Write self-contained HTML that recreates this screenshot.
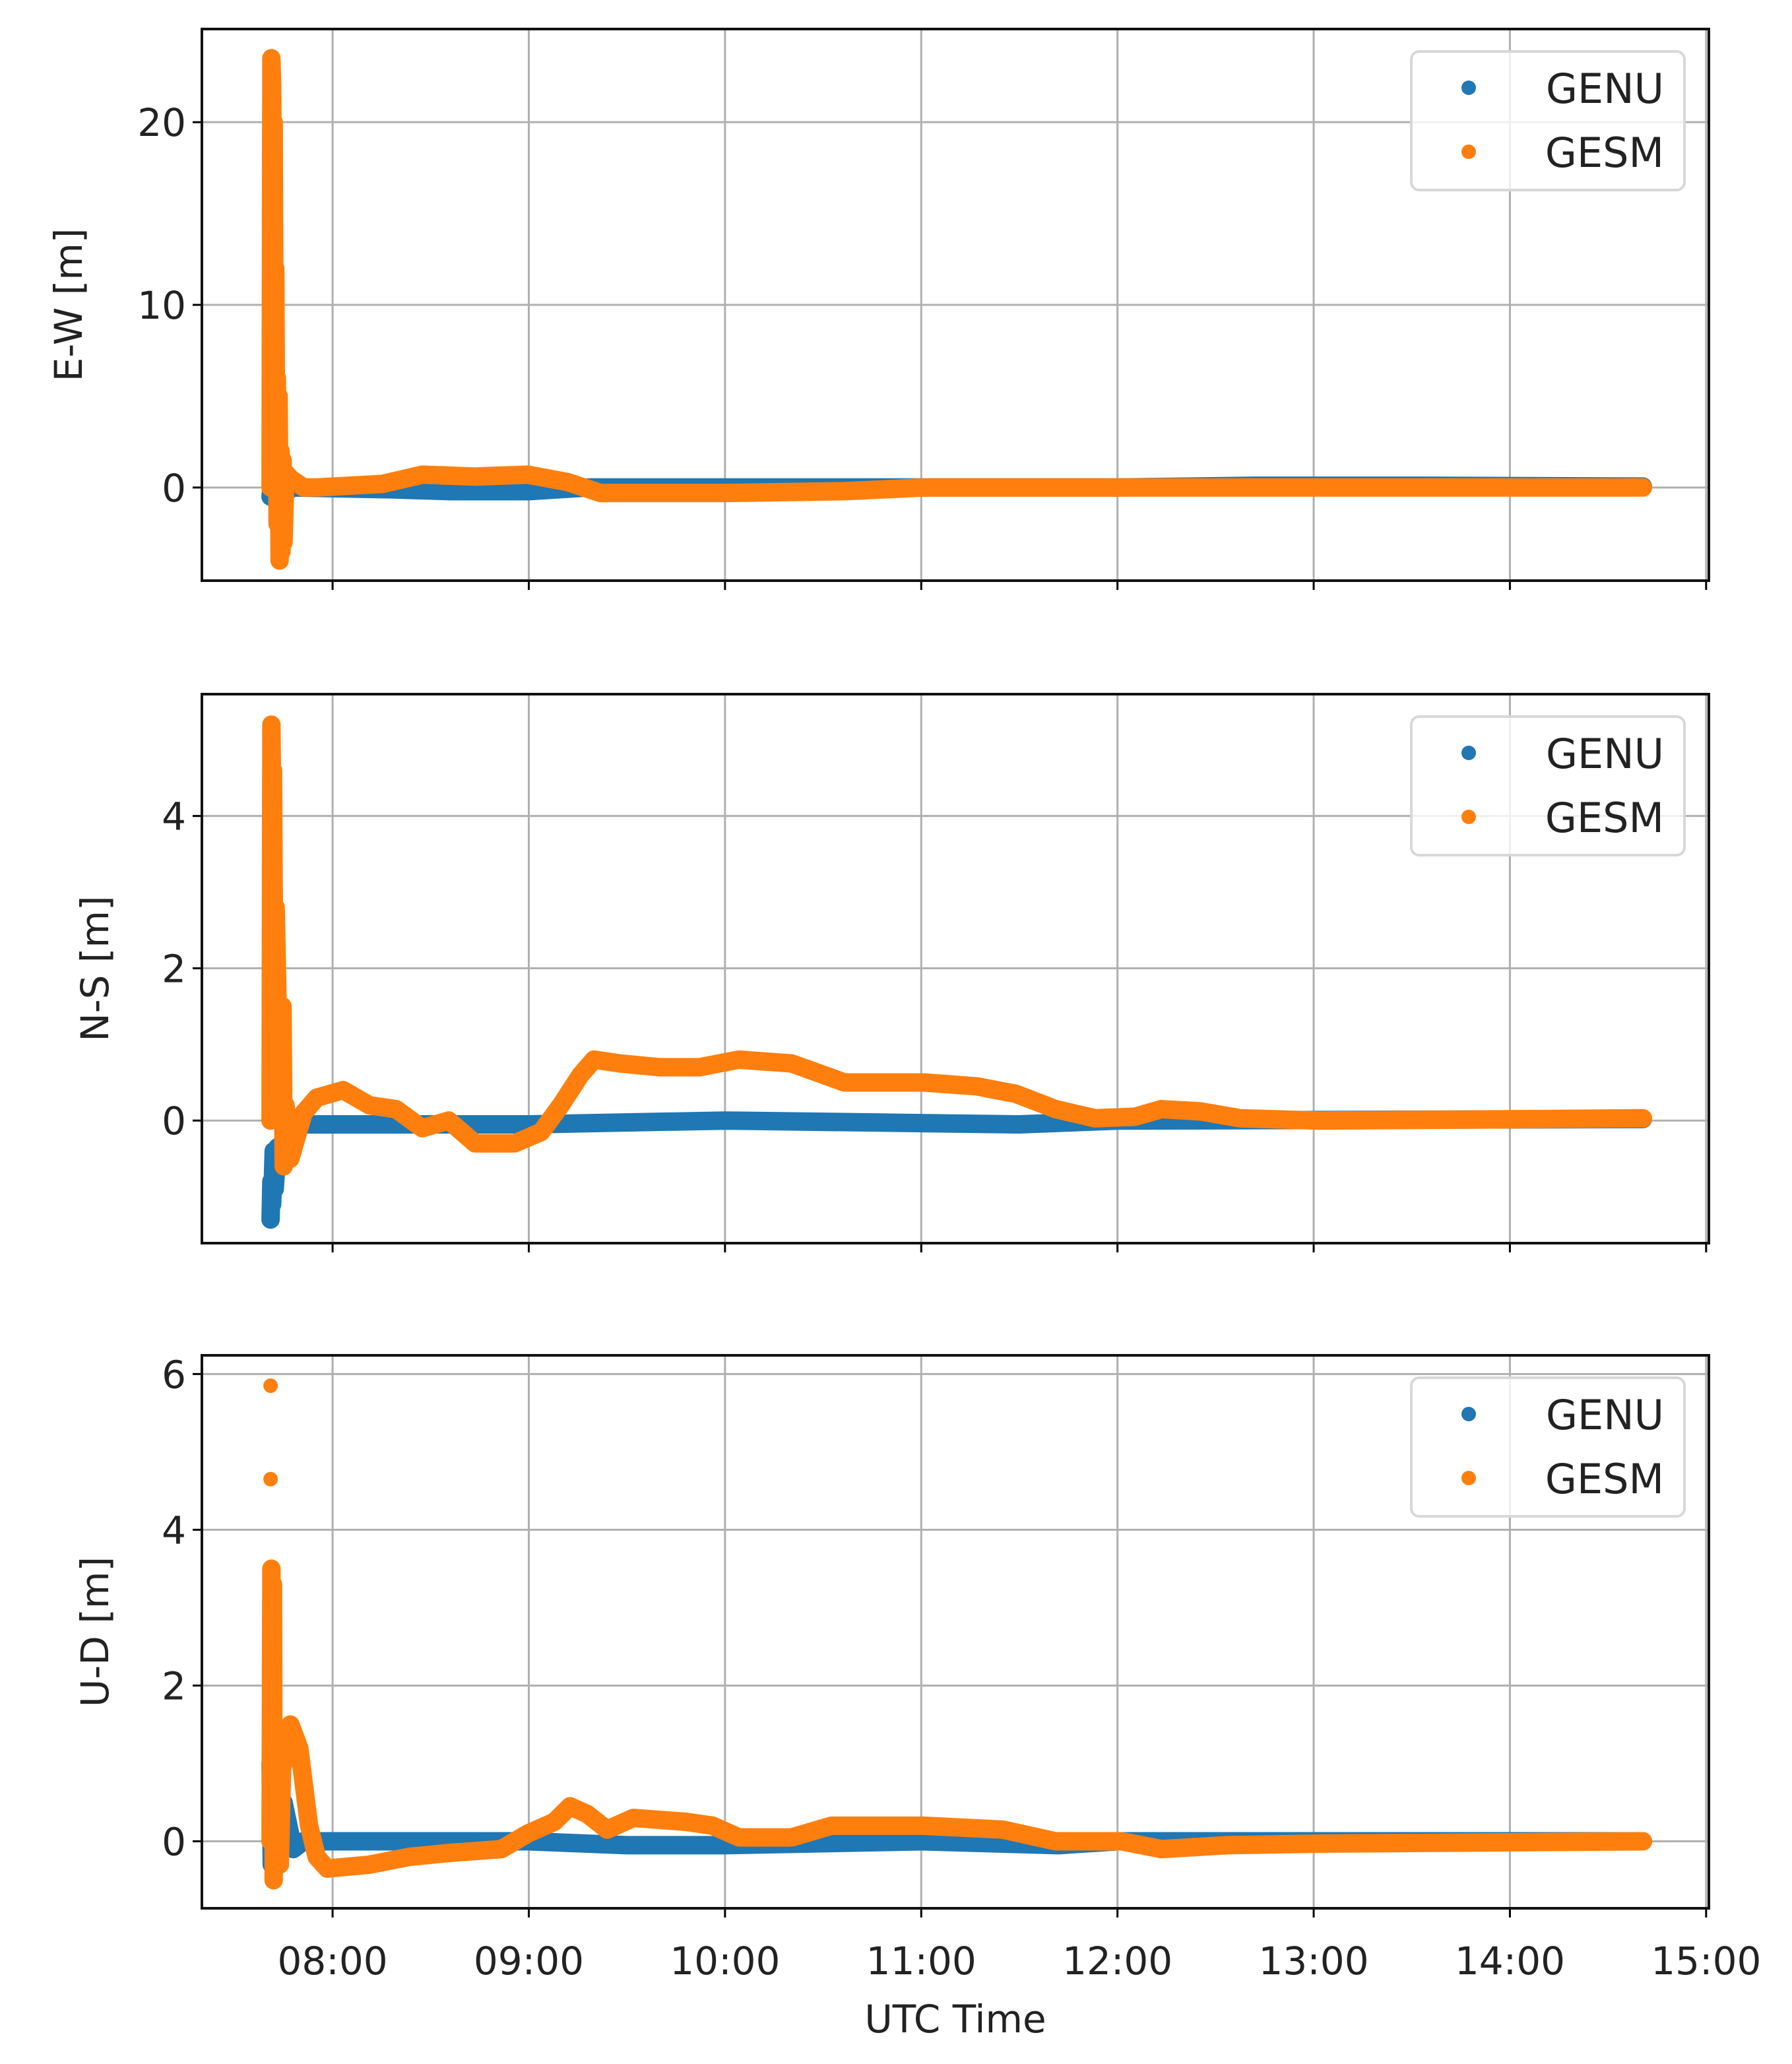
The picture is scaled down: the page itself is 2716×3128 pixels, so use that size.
<!DOCTYPE html>
<html><head><meta charset="utf-8"><style>
html,body{margin:0;padding:0;background:#fff;}
svg{display:block;font-family:"DejaVu Sans","Liberation Sans",sans-serif;}
</style></head><body>
<svg id="chart" width="2716" height="3128" viewBox="0 0 2716 3128" xmlns="http://www.w3.org/2000/svg"></svg>
<script>
// ---- data (hours UTC, metres) ----
const xTickHours = [8,9,10,11,12,13,14,15];
const xTickLabels = ["08:00","09:00","10:00","11:00","12:00","13:00","14:00","15:00"];
const seriesNames = ["GENU","GESM"];
const ewTicks = [0,10,20];
const nsTicks = [0,2,4];
const udTicks = [0,2,4,6];
const ewGenuT = [7.684,7.69,7.70,7.72,7.75,7.80,8.3,8.6,9.0,9.3,10.0,12.0,12.7,13.5,14.678];
const ewGenuV = [-0.5,0.3,-0.6,0.2,-0.3,0,-0.1,-0.2,-0.2,0,0,0,0.1,0.1,0.05];
const ewGesmT = [7.684,7.688,7.692,7.696,7.70,7.704,7.708,7.712,7.716,7.72,7.725,7.73,7.735,7.74,7.745,7.75,7.76,7.785,7.852,7.919,8.256,8.457,8.726,8.995,9.197,9.365,10.004,10.609,11.013,12.0,13.03,14.678];
const ewGesmV = [0,23.5,22,15,20,8,12,3,6,-2,5,-4,2,-3.5,1.5,-3,0.8,0.5,0,0,0.2,0.7,0.6,0.7,0.3,-0.3,-0.3,-0.2,0,0,0,0];
const nsGenuT = [7.684,7.688,7.692,7.70,7.705,7.72,7.751,7.785,7.852,7.919,8.2,9.0,10.0,11.5,12.0,14.678];
const nsGenuV = [-1.3,-0.8,-1.1,-0.4,-0.9,-0.35,-0.3,-0.2,-0.05,-0.05,-0.05,-0.05,0,-0.05,0,0.02];
const nsGesmT = [7.684,7.688,7.692,7.696,7.70,7.705,7.71,7.72,7.731,7.745,7.751,7.76,7.785,7.852,7.919,8.054,8.188,8.323,8.457,8.592,8.726,8.928,9.063,9.163,9.264,9.332,9.466,9.668,9.87,10.071,10.34,10.609,11.013,11.282,11.483,11.685,11.887,12.089,12.223,12.425,12.627,13.03,14.678];
const nsGesmV = [0,5.2,4.2,4.6,3.0,2.2,2.8,1.5,0.8,1.5,-0.6,0.2,-0.5,0.1,0.3,0.4,0.2,0.15,-0.1,0.0,-0.3,-0.3,-0.15,0.2,0.6,0.8,0.75,0.7,0.7,0.8,0.75,0.5,0.5,0.45,0.35,0.15,0.03,0.05,0.15,0.12,0.03,0.0,0.03];
const udGenuT = [7.684,7.69,7.70,7.72,7.75,7.80,7.85,8.3,9.0,9.5,10.0,11.0,11.7,12.0,14.678];
const udGenuV = [1.0,-0.3,0.8,-0.2,0.5,-0.1,0,0,0,-0.05,-0.05,0,-0.05,0,0];
const udGesmT = [7.684,7.688,7.692,7.696,7.70,7.705,7.71,7.72,7.731,7.745,7.751,7.785,7.83,7.88,7.919,7.973,8.188,8.39,8.592,8.861,8.995,9.13,9.21,9.298,9.399,9.533,9.802,9.937,10.071,10.34,10.542,11.013,11.416,11.685,12.021,12.223,12.56,13.03,14.678];
const udGesmV = [0,3.5,2.0,3.3,-0.5,1.5,0.2,1.0,-0.3,1.2,1.0,1.5,1.2,0.2,-0.2,-0.35,-0.3,-0.2,-0.15,-0.1,0.1,0.25,0.45,0.35,0.15,0.3,0.25,0.2,0.05,0.05,0.2,0.2,0.15,0.0,0.0,-0.1,-0.05,-0.03,0];
const udOutlierT = [7.684,7.684];
const udOutlierV = [5.85,4.65];

const NS="http://www.w3.org/2000/svg";
const svg=document.getElementById('chart');
const X0=306,X1=2590,H0=7.334,H1=15.014;
function xs(h){return X0+(h-H0)/(H1-H0)*(X1-X0);}
const BLUE="#1f77b4",ORANGE="#ff7f0e";
function mk(tag,attrs,parent){const e=document.createElementNS(NS,tag);for(const k in attrs)e.setAttribute(k,attrs[k]);(parent||svg).appendChild(e);return e;}

const panels=[
 {name:'ew',top:44,bot:880,lo:-5.1,hi:25.1,ticks:ewTicks,label:'E-W [m]',labelX:124,data:[[ewGenuT,ewGenuV],[ewGesmT,ewGesmV]]},
 {name:'ns',top:1052,bot:1884,lo:-1.61,hi:5.6,ticks:nsTicks,label:'N-S [m]',labelX:164,data:[[nsGenuT,nsGenuV],[nsGesmT,nsGesmV]]},
 {name:'ud',top:2054,bot:2892,lo:-0.86,hi:6.24,ticks:udTicks,label:'U-D [m]',labelX:164,data:[[udGenuT,udGenuV],[udGesmT,udGesmV]],out:[udOutlierT,udOutlierV]}
];
panels.forEach((p,pi)=>{
 const ys=v=>p.bot-(v-p.lo)/(p.hi-p.lo)*(p.bot-p.top);
 const g=mk('g',{});
 
 
 xTickHours.forEach(h=>{const x=xs(h);if(x<=X1+1){const l=mk('line',{x1:x,x2:x,y1:p.top,y2:p.bot,stroke:'#b0b0b0','stroke-width':3},g);
  }
  const t=mk('line',{x1:x,x2:x,y1:p.bot,y2:p.bot+14,stroke:'#000','stroke-width':3},g);
  });
 p.ticks.forEach(v=>{const y=ys(v);const l=mk('line',{x1:X0,x2:X1,y1:y,y2:y,stroke:'#b0b0b0','stroke-width':3},g);
  
  const t=mk('line',{x1:X0-14,x2:X0,y1:y,y2:y,stroke:'#000','stroke-width':3},g);
  
  const tx=mk('text',{x:X0-24,y:y+21,'text-anchor':'end','font-size':58,fill:'#222'},g);tx.textContent=String(v);
  });
 p.data.forEach((d,si)=>{
  const pts=d[0].map((h,i)=>xs(h).toFixed(1)+','+ys(d[1][i]).toFixed(1)).join(' ');
  const pl=mk('polyline',{points:pts,fill:'none',stroke:si?ORANGE:BLUE,'stroke-width':28,'stroke-linejoin':'round','stroke-linecap':'round'},g);
  
  
 });
 if(p.out){p.out[0].forEach((h,i)=>{const c=mk('circle',{cx:xs(h),cy:ys(p.out[1][i]),r:11,fill:ORANGE},g);
  });}
 const fr=mk('rect',{x:X0,y:p.top,width:X1-X0,height:p.bot-p.top,fill:'none',stroke:'#111','stroke-width':4},g);
 
 const cy=(p.top+p.bot)/2;
 const yl=mk('text',{x:p.labelX,y:cy,'text-anchor':'middle','font-size':58,fill:'#222',transform:'rotate(-90 '+p.labelX+' '+cy+')'},g);
 yl.textContent=p.label;
 
 const lt=p.top+34;
 const lg=mk('g',{},g);
 
 mk('rect',{x:2139,y:lt,width:414,height:210,rx:12,fill:'#fff','fill-opacity':0.8,stroke:'#d8d8d8','stroke-width':4},lg);
 seriesNames.forEach((n,si)=>{
  const e=mk('g',{},lg);
  
  mk('circle',{cx:2226,cy:lt+55+si*97,r:11,fill:si?ORANGE:BLUE},e);
  const t=mk('text',{x:2522,y:lt+78+si*97,'text-anchor':'end','font-size':62,fill:'#222'},e);t.textContent=n;
 });
});
xTickHours.forEach((h,i)=>{const t=mk('text',{x:xs(h),y:2992,'text-anchor':'middle','font-size':58,fill:'#222'});t.textContent=xTickLabels[i];
 });
const xl=mk('text',{x:1448,y:3080,'text-anchor':'middle','font-size':58,fill:'#222'});xl.textContent='UTC Time';

</script>
</body></html>
